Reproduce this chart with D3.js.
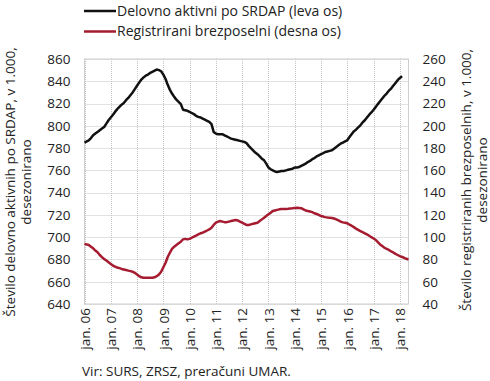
<!DOCTYPE html>
<html><head><meta charset="utf-8">
<script src="https://cdn.jsdelivr.net/npm/d3@7"></script>
<style>
body{margin:0;background:#fff}
svg{display:block}
text{font-family:"Open Sans",sans-serif;fill:#222}
</style>
</head><body>
<svg id="c" width="490" height="381"></svg>
<script>
// monthly series starting jan 2006
const startYear = 2006;
const employed = [
785,786,787,789,791.5,793,794.5,796,797.5,799,802,805,
807.5,810,812.5,815,817,819,820.5,823,825,827.5,830,833,
836,839,841.5,843.5,845,846,847.5,848.5,849.5,850.5,850,849,
846,842,837,832.5,829,826,823.5,821.5,819.5,814.5,814,813.5,
812.5,811.5,810.5,809,808,807.5,806.5,805.5,804.5,803.5,801.5,794.5,
793,792.5,792.5,792.5,791.5,790.5,789.5,788.5,788,787.5,787,786.5,
786,785.5,784.5,782,780,778,776,774.5,772.5,770.5,769,766,
762.5,761,760,759,758.5,759,759.5,759.5,760,760.5,761,761.5,
762.5,762.5,763,764,765,766,767.5,768.5,770,771,772.5,773.5,
774.5,775.5,776.5,777,777.5,778,779.5,781,782.5,784,785,786,
787,790,792.5,795,796.5,798.5,800.5,803,805,807.5,810,812,
814.5,817,819.5,822,824.5,827,829,831.5,833.5,836,838.5,841,
843,844.5
];
const unemployed = [
94,93.5,93,91.5,90,88,86.5,84,82,80.5,79,77.5,
76,74.5,73.5,72.8,72.2,71.5,71,70.5,70,69.5,69,68,
66.5,65,64,63.5,63.5,63.5,63.5,63.5,64,65,66.5,69,
73,77,82,86,89.5,91.5,93,94.5,96,98,98.5,98,
98.5,99.5,100.5,101.5,102.5,103.5,104,105,106,107,108.5,111,
113,114,114.5,114,113.5,113.5,114,114.5,115,115.5,115,114,
113,112,111,111,111.5,112,112.5,113,114.5,116,117.5,119,
120.5,122,123.5,124,124.5,125,125.3,125.3,125.3,125.5,125.8,126,
126.3,126.5,126.3,126,125,124,123.5,123,122.5,121.5,120.8,120,
119,118.5,118,117.7,117.5,117.3,116.8,116,115,114,113.3,113,
112.5,111.3,110.3,109,107.7,106.5,105.5,104.5,103.5,102.5,101.3,100,
98.8,97.5,95.5,93.5,92,90.5,89.5,88.5,87.3,86.3,85,84,
83,82.2,81.5,80.6,80
];
const leftTicks = [640,660,680,700,720,740,760,780,800,820,840,860];
const rightTicks = [40,60,80,100,120,140,160,180,200,220,240,260];
const xLabels = ["jan. 06","jan. 07","jan. 08","jan. 09","jan. 10","jan. 11","jan. 12","jan. 13","jan. 14","jan. 15","jan. 16","jan. 17","jan. 18"];
const seriesNames = ["Delovno aktivni po SRDAP (leva os)","Registrirani brezposelni (desna os)"];
const seriesColors = ["#111111","#a51c30"];
const leftTitle = ["Število delovno aktivnih po SRDAP, v 1.000,","desezonirano"];
const rightTitle = ["Število registriranih brezposelnih, v 1.000,","desezonirano"];
const sourceText = "Vir: SURS, ZRSZ, preračuni UMAR.";

const svg = d3.select("#c");
const L = 84.5, R = 408.5, T = 59, B = 304;
const x = d3.scaleTime().domain([new Date(2006,0,1), new Date(2018,4,1)]).range([L, R]);
const yL = d3.scaleLinear().domain([640,860]).range([B, T]);
const yR = d3.scaleLinear().domain([40,260]).range([B, T]);
const mdate = i => new Date(startYear, i, 1);
const yearDates = xLabels.map((_, i) => new Date(startYear + i, 0, 1));

// grid
const grid = svg.append("g");
grid.selectAll(".h").data(leftTicks).join("line")
  .attr("x1", L).attr("x2", R).attr("y1", d => Math.round(yL(d))+0.5).attr("y2", d => Math.round(yL(d))+0.5)
  .attr("stroke", "#c4c4c4").attr("stroke-width", 1).attr("stroke-dasharray", "1,1");
grid.selectAll(".v").data(yearDates).join("line")
  .attr("x1", d => Math.round(x(d))+0.5).attr("x2", d => Math.round(x(d))+0.5).attr("y1", T).attr("y2", B)
  .attr("stroke", "#c4c4c4").attr("stroke-width", 1).attr("stroke-dasharray", "1,1");
svg.append("rect").attr("x", L).attr("y", T).attr("width", R-L).attr("height", B-T)
  .attr("fill", "none").attr("stroke", "#cfcfcf").attr("stroke-width", 1);

// axes
const ax1 = svg.append("g").attr("transform", `translate(${L},0)`)
  .call(d3.axisLeft(yL).tickValues(leftTicks).tickSize(0).tickPadding(14).tickFormat(d3.format("d")));
const ax2 = svg.append("g").attr("transform", `translate(${R},0)`)
  .call(d3.axisRight(yR).tickValues(rightTicks).tickSize(0).tickPadding(14).tickFormat(d3.format("d")));
const ax3 = svg.append("g").attr("transform", `translate(0,${B})`)
  .call(d3.axisBottom(x).tickValues(yearDates).tickSize(0).tickFormat((d,i) => xLabels[i]));
[ax1, ax2, ax3].forEach(a => { a.select(".domain").remove(); a.selectAll("text").attr("font-size", 13.5).attr("fill", "#222").attr("font-family", '"Open Sans",sans-serif'); });
ax3.selectAll("text").attr("transform", "rotate(-90)").attr("text-anchor", "end")
  .attr("x", -4).attr("y", 0).attr("dy", "0.35em");

// lines
const line1 = d3.line().x((d,i) => x(mdate(i))).y(d => yL(d)).curve(d3.curveLinear);
const line2 = d3.line().x((d,i) => x(mdate(i))).y(d => yR(d)).curve(d3.curveLinear);
svg.append("path").datum(unemployed).attr("d", line2).attr("fill", "none")
  .attr("stroke", seriesColors[1]).attr("stroke-width", 2.5).attr("stroke-linejoin", "round");
svg.append("path").datum(employed).attr("d", line1).attr("fill", "none")
  .attr("stroke", seriesColors[0]).attr("stroke-width", 2.5).attr("stroke-linejoin", "round");

// legend
seriesNames.forEach((n, i) => {
  const yy = 11 + i * 20.5;
  svg.append("line").attr("x1", 84).attr("x2", 116).attr("y1", yy).attr("y2", yy)
    .attr("stroke", seriesColors[i]).attr("stroke-width", 2.5);
  svg.append("text").attr("x", 117).attr("y", yy).attr("dy", "0.35em").attr("font-size", 14).text(n);
});

// axis titles
const lt = svg.append("text").attr("transform", "translate(20,182) rotate(-90)").attr("text-anchor", "middle").attr("font-size", 13.5);
lt.append("tspan").attr("x", 0).attr("dy", "-0.35em").text(leftTitle[0]);
lt.append("tspan").attr("x", 0).attr("dy", "1.2em").text(leftTitle[1]);
const rt = svg.append("text").attr("transform", "translate(470,180) rotate(-90)").attr("text-anchor", "middle").attr("font-size", 13.5);
rt.append("tspan").attr("x", 0).attr("dy", "0.05em").text(rightTitle[0]);
rt.append("tspan").attr("x", 0).attr("dy", "1.2em").text(rightTitle[1]);

// source
svg.append("text").attr("x", 82).attr("y", 376).attr("font-size", 13.5).text(sourceText);
</script>
</body></html>
